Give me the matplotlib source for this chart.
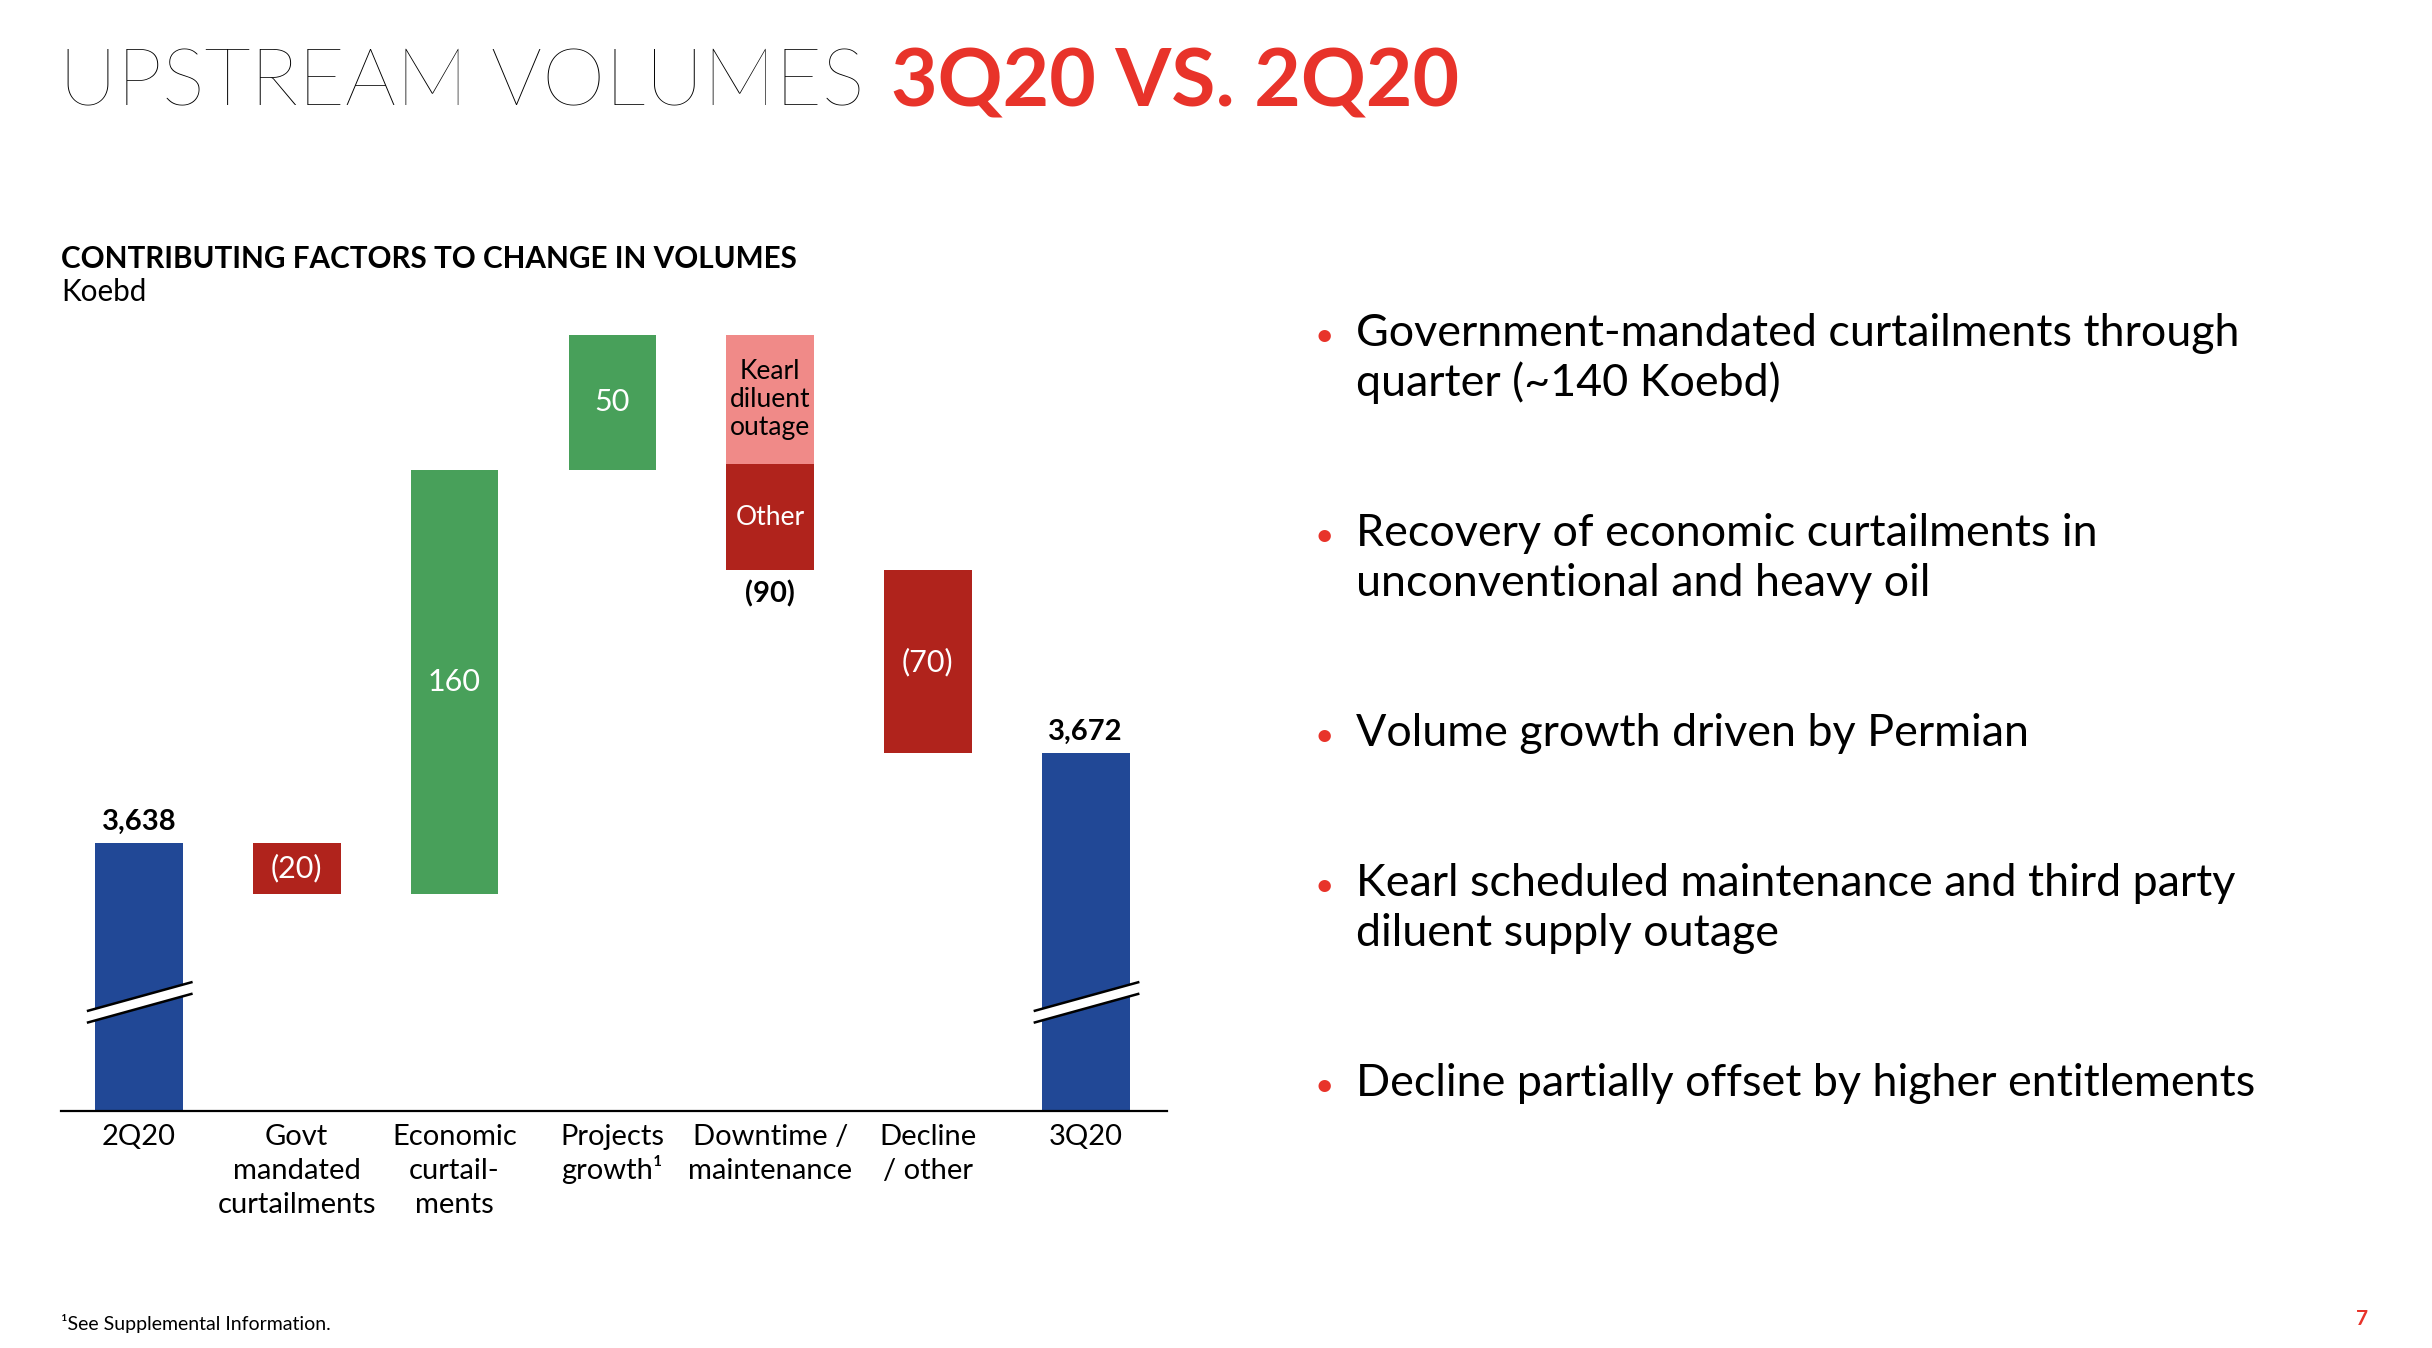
import matplotlib
matplotlib.use("Agg")
import matplotlib.pyplot as plt
import matplotlib.transforms as mtransforms
from matplotlib.patches import Polygon

W, H = 2432, 1348

# data
categories = ["2Q20", "Govt\nmandated\ncurtailments", "Economic\ncurtail-\nments",
              "Projects\ngrowth¹", "Downtime /\nmaintenance", "Decline\n/ other", "3Q20"]
start_value = 3638
end_value = 3672
changes = [-19, 160, 51, -89, -69]
change_labels = ["(20)", "160", "50", "(90)", "(70)"]
downtime_parts = [49, 40]          # Kearl diluent outage, Other
downtime_part_labels = ["Kearl\ndiluent\noutage", "Other"]

bullets = [
    ["Government-mandated curtailments through", "quarter (~140 Koebd)"],
    ["Recovery of economic curtailments in", "unconventional and heavy oil"],
    ["Volume growth driven by Permian"],
    ["Kearl scheduled maintenance and third party", "diluent supply outage"],
    ["Decline partially offset by higher entitlements"],
]

BLUE = "#214896"
GREEN = "#48A05A"
DARK_RED = "#B0231C"
PINK = "#F08A88"
RED = "#E8332A"

plt.rcParams["font.family"] = ["Lato", "DejaVu Sans"]


def fy(y):
    return 1 - y / H


fig = plt.figure(figsize=(W / 100, H / 100), dpi=100)
fig.patch.set_facecolor("white")

# title
renderer = fig.canvas.get_renderer()
t1 = fig.text(59 / W, fy(106), "UPSTREAM VOLUMES", fontsize=58, fontweight="light",
              color="black", va="baseline", ha="left")
x1 = t1.get_window_extent(renderer).x1
fig.text((x1 + 26) / W, fy(106), "3Q20 VS. 2Q20", fontsize=58, fontweight="bold",
         color=RED, va="baseline", ha="left")

fig.text(61 / W, fy(268), "CONTRIBUTING FACTORS TO CHANGE IN VOLUMES", fontsize=21.3,
         fontweight="bold", va="baseline")
fig.text(61 / W, fy(301), "Koebd", fontsize=21.3, va="baseline")

# waterfall
px_per_unit = 2.65
ax_left, ax_right, ax_bottom_px, ax_top_px = 61, 1167, 1111, 320
ax = fig.add_axes([ax_left / W, fy(ax_bottom_px), (ax_right - ax_left) / W,
                   (ax_bottom_px - ax_top_px) / H])
y0 = start_value - 101
ax.set_ylim(y0, y0 + (ax_bottom_px - ax_top_px) / px_per_unit)
ax.set_xlim(-0.494, 6.515)
for s in ["top", "right", "left"]:
    ax.spines[s].set_visible(False)
ax.spines["bottom"].set_linewidth(1.6)
ax.set_xticks([])
ax.set_yticks([])

bw = 0.555
val_kw = dict(ha="center", va="center", fontsize=22, color="white")
tot_kw = dict(ha="center", va="baseline", fontsize=21, fontweight="bold")

ax.bar(0, start_value - y0, bottom=y0, width=bw, color=BLUE)
ax.text(0, start_value + 5, f"{start_value:,}", **tot_kw)

running = start_value
for i, (c, lab) in enumerate(zip(changes, change_labels)):
    xi = i + 1
    lo = min(running, running + c)
    if i == 3:
        top = running
        ax.bar(xi, downtime_parts[0], bottom=top - downtime_parts[0], width=bw, color=PINK)
        ax.bar(xi, downtime_parts[1], bottom=top - sum(downtime_parts), width=bw,
               color=DARK_RED)
        ax.text(xi, top - downtime_parts[0] / 2, downtime_part_labels[0], ha="center",
                va="center", fontsize=19, color="black", linespacing=1.15)
        ax.text(xi, top - downtime_parts[0] - downtime_parts[1] / 2,
                downtime_part_labels[1], ha="center", va="center", fontsize=19,
                color="white")
        ax.text(xi, lo - 12, lab, ha="center", va="baseline", fontsize=21,
                fontweight="bold")
    else:
        ax.bar(xi, abs(c), bottom=lo, width=bw, color=GREEN if c > 0 else DARK_RED)
        ax.text(xi, lo + abs(c) / 2, lab, **val_kw)
    running += c

last = len(categories) - 1
ax.bar(last, end_value - y0, bottom=y0, width=bw, color=BLUE)
ax.text(last, end_value + 5, f"{end_value:,}", **tot_kw)

# axis break marks on total bars
for xb in [0, last]:
    xl, xr = xb - 0.33, xb + 0.34
    yl, yr, gap = y0 + 35.5, y0 + 46.5, 4.4
    ax.add_patch(Polygon([(xl, yl - gap / 2), (xr, yr - gap / 2), (xr, yr + gap / 2),
                          (xl, yl + gap / 2)], closed=True, facecolor="white",
                         edgecolor="none", clip_on=False, zorder=3))
    for sgn in (-1, 1):
        ax.plot([xl, xr], [yl + sgn * gap / 2, yr + sgn * gap / 2], color="black",
                lw=1.8, clip_on=False, zorder=4, solid_capstyle="butt")

# category labels
tr = mtransforms.blended_transform_factory(ax.transData, fig.transFigure)
for i, cat in enumerate(categories):
    for j, line in enumerate(cat.split("\n")):
        ax.text(i, fy(1145 + 34 * j), line, transform=tr, ha="center", va="baseline",
                fontsize=21)

# bullets
yb = 346
for para in bullets:
    fig.text(1315 / W, fy(yb), "•", color=RED, fontsize=24, va="baseline", ha="left")
    for line in para:
        fig.text(1356 / W, fy(yb), line, fontsize=32.3, va="baseline", ha="left")
        yb += 50
    yb += 100

fig.text(61 / W, fy(1330), "¹See Supplemental Information.", fontsize=14, va="baseline")
fig.text(2368 / W, fy(1325), "7", fontsize=15, fontweight="bold", color=RED,
         va="baseline", ha="right")

fig.savefig("out.png", dpi=100)
